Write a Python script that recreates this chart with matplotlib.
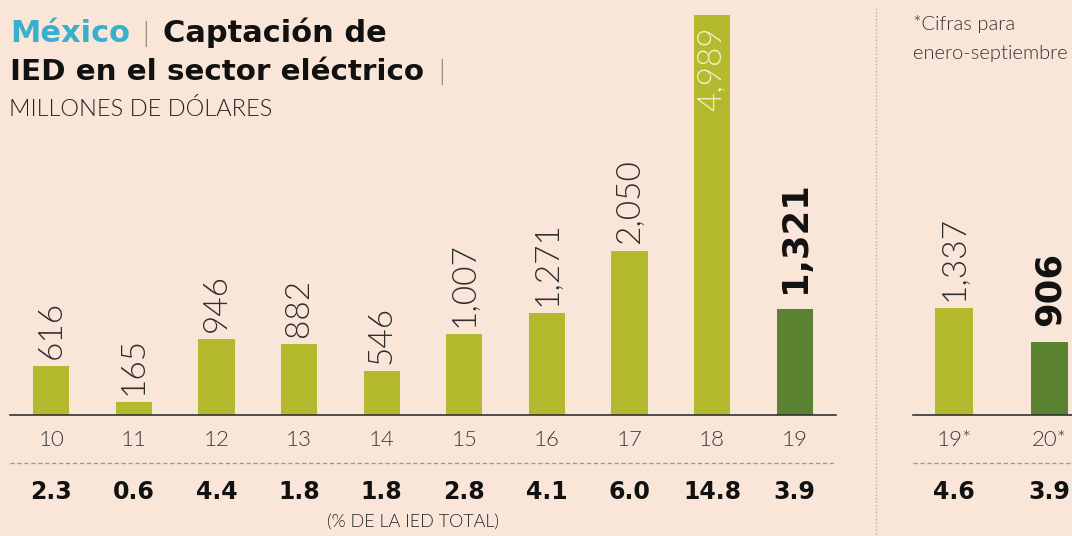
import matplotlib
matplotlib.use("Agg")
import matplotlib.pyplot as plt

# ---------------- data ----------------
years = ['10', '11', '12', '13', '14', '15', '16', '17', '18', '19']
values = [616, 165, 946, 882, 546, 1007, 1271, 2050, 4989, 1321]
pct_total = ['2.3', '0.6', '4.4', '1.8', '1.8', '2.8', '4.1', '6.0', '14.8', '3.9']

partial_years = ['19*', '20*']
partial_values = [1337, 906]
partial_pct = ['4.6', '3.9']

title_country = 'México'
title_line1 = 'Captación de'
title_line2 = 'IED en el sector eléctrico'
subtitle = 'MILLONES DE DÓLARES'
footnote = ['*Cifras para', 'enero-septiembre']
pct_caption = '(% DE LA IED TOTAL)'

# ---------------- style ----------------
BG = '#FAE6D9'
LIGHT_GREEN = '#B3BA2D'
DARK_GREEN = '#5B8231'
CYAN = '#3AAFCB'
TXT = '#111111'
GREY = '#3A3A3A'
LIGHT_FONT = ['Lato', 'DejaVu Sans']
LW = 300
HEAVY_FONT = ['DejaVu Sans']

W, H = 1072, 536
fig = plt.figure(figsize=(W / 100, H / 100), dpi=100, facecolor=BG)


def fx(x):
    return x / W


def fy(y):
    return 1 - y / H


BASE = 415
TOP = 15
YMAX = max(values)


def make_axes(left, right, xlim):
    ax = fig.add_axes([fx(left), fy(BASE), (right - left) / W, (BASE - TOP) / H])
    ax.set_facecolor('none')
    ax.set_xlim(*xlim)
    ax.set_ylim(0, YMAX)
    for s in ['top', 'right', 'left']:
        ax.spines[s].set_visible(False)
    ax.spines['bottom'].set_color('#333333')
    ax.spines['bottom'].set_linewidth(1.2)
    ax.set_xticks([])
    ax.set_yticks([])
    return ax


def px2pt(p):
    return p * 0.72


def decorate(ax, cats, vals, pcts, highlight_last, inside_max, width):
    n = len(cats)
    xs = list(range(n))
    colors = [LIGHT_GREEN] * n
    if highlight_last:
        colors[-1] = DARK_GREEN
    ax.bar(xs, vals, width=width, color=colors, zorder=2)
    for i, (c, v, p) in enumerate(zip(cats, vals, pcts)):
        lab = f'{v:,}'
        is_hl = highlight_last and i == n - 1
        if inside_max and v == YMAX:
            ax.annotate(lab, (i, v), xytext=(0, -px2pt(11)), textcoords='offset points',
                        rotation=90, ha='center', va='top', fontsize=24,
                        family=LIGHT_FONT, fontweight=LW, color='#F4EFC4')
        elif is_hl:
            ax.annotate(lab, (i, v), xytext=(0, px2pt(16)), textcoords='offset points',
                        rotation=90, ha='center', va='bottom', fontsize=25.5,
                        family=HEAVY_FONT, fontweight='bold', color=TXT)
        else:
            ax.annotate(lab, (i, v), xytext=(0, px2pt(7)), textcoords='offset points',
                        rotation=90, ha='center', va='bottom', fontsize=24,
                        family=LIGHT_FONT, fontweight=LW, color='#2E2E2E')
        # year tick label
        ax.annotate(c, (i, 0), xycoords=('data', 'axes fraction'),
                    xytext=(0, -px2pt(25)), textcoords='offset points',
                    ha='center', va='center', fontsize=16,
                    family=LIGHT_FONT, fontweight=LW, color=GREY)
        # pct label
        ax.annotate(p, (i, 0), xycoords=('data', 'axes fraction'),
                    xytext=(0, -px2pt(77)), textcoords='offset points',
                    ha='center', va='center', fontsize=17,
                    family=HEAVY_FONT, fontweight='bold', color=TXT)
    dash_y = -48 / (BASE - TOP)
    ax.plot([0, 1], [dash_y, dash_y], transform=ax.transAxes, clip_on=False,
            color='#9A9A9A', lw=1, ls=(0, (3, 2)))


# left panel
axL = make_axes(10, 836, (-0.5, 9.5))
decorate(axL, years, values, pct_total, True, True, 0.44)

# right panel
axR = make_axes(913, 1072, (-0.43, 1.24))
decorate(axR, partial_years, partial_values, partial_pct, True, False, 0.39)

# separator
fig.add_artist(plt.Line2D([fx(876), fx(876)], [fy(8), fy(536)], color='#B8B0A8',
                          lw=1, ls=(0, (1, 1.5))))

# titles
fig.text(fx(10), fy(42), title_country, color=CYAN, fontsize=22,
         family=HEAVY_FONT, fontweight='bold', va='baseline')
fig.text(fx(142), fy(42), '|', color='#777777', fontsize=20,
         family=LIGHT_FONT, fontweight=LW, va='baseline')
fig.text(fx(163), fy(42), title_line1, color=TXT, fontsize=22,
         family=HEAVY_FONT, fontweight='bold', va='baseline')
fig.text(fx(10), fy(80), title_line2, color=TXT, fontsize=21.2,
         family=HEAVY_FONT, fontweight='bold', va='baseline')
fig.text(fx(438), fy(80), '|', color='#777777', fontsize=20,
         family=LIGHT_FONT, fontweight=LW, va='baseline')
fig.text(fx(9), fy(116), subtitle, color='#222222', fontsize=17,
         family=LIGHT_FONT, fontweight=LW, va='baseline')

fig.text(fx(913), fy(30), footnote[0], color='#333333', fontsize=14.5,
         family=LIGHT_FONT, fontweight=LW, va='baseline')
fig.text(fx(913), fy(59), footnote[1], color='#333333', fontsize=14.5,
         family=LIGHT_FONT, fontweight=LW, va='baseline')

fig.text(fx(413), fy(522), pct_caption, color='#222222', fontsize=13,
         family=LIGHT_FONT, fontweight=LW, ha='center', va='center')

fig.savefig('out.png', dpi=100, facecolor=BG)
